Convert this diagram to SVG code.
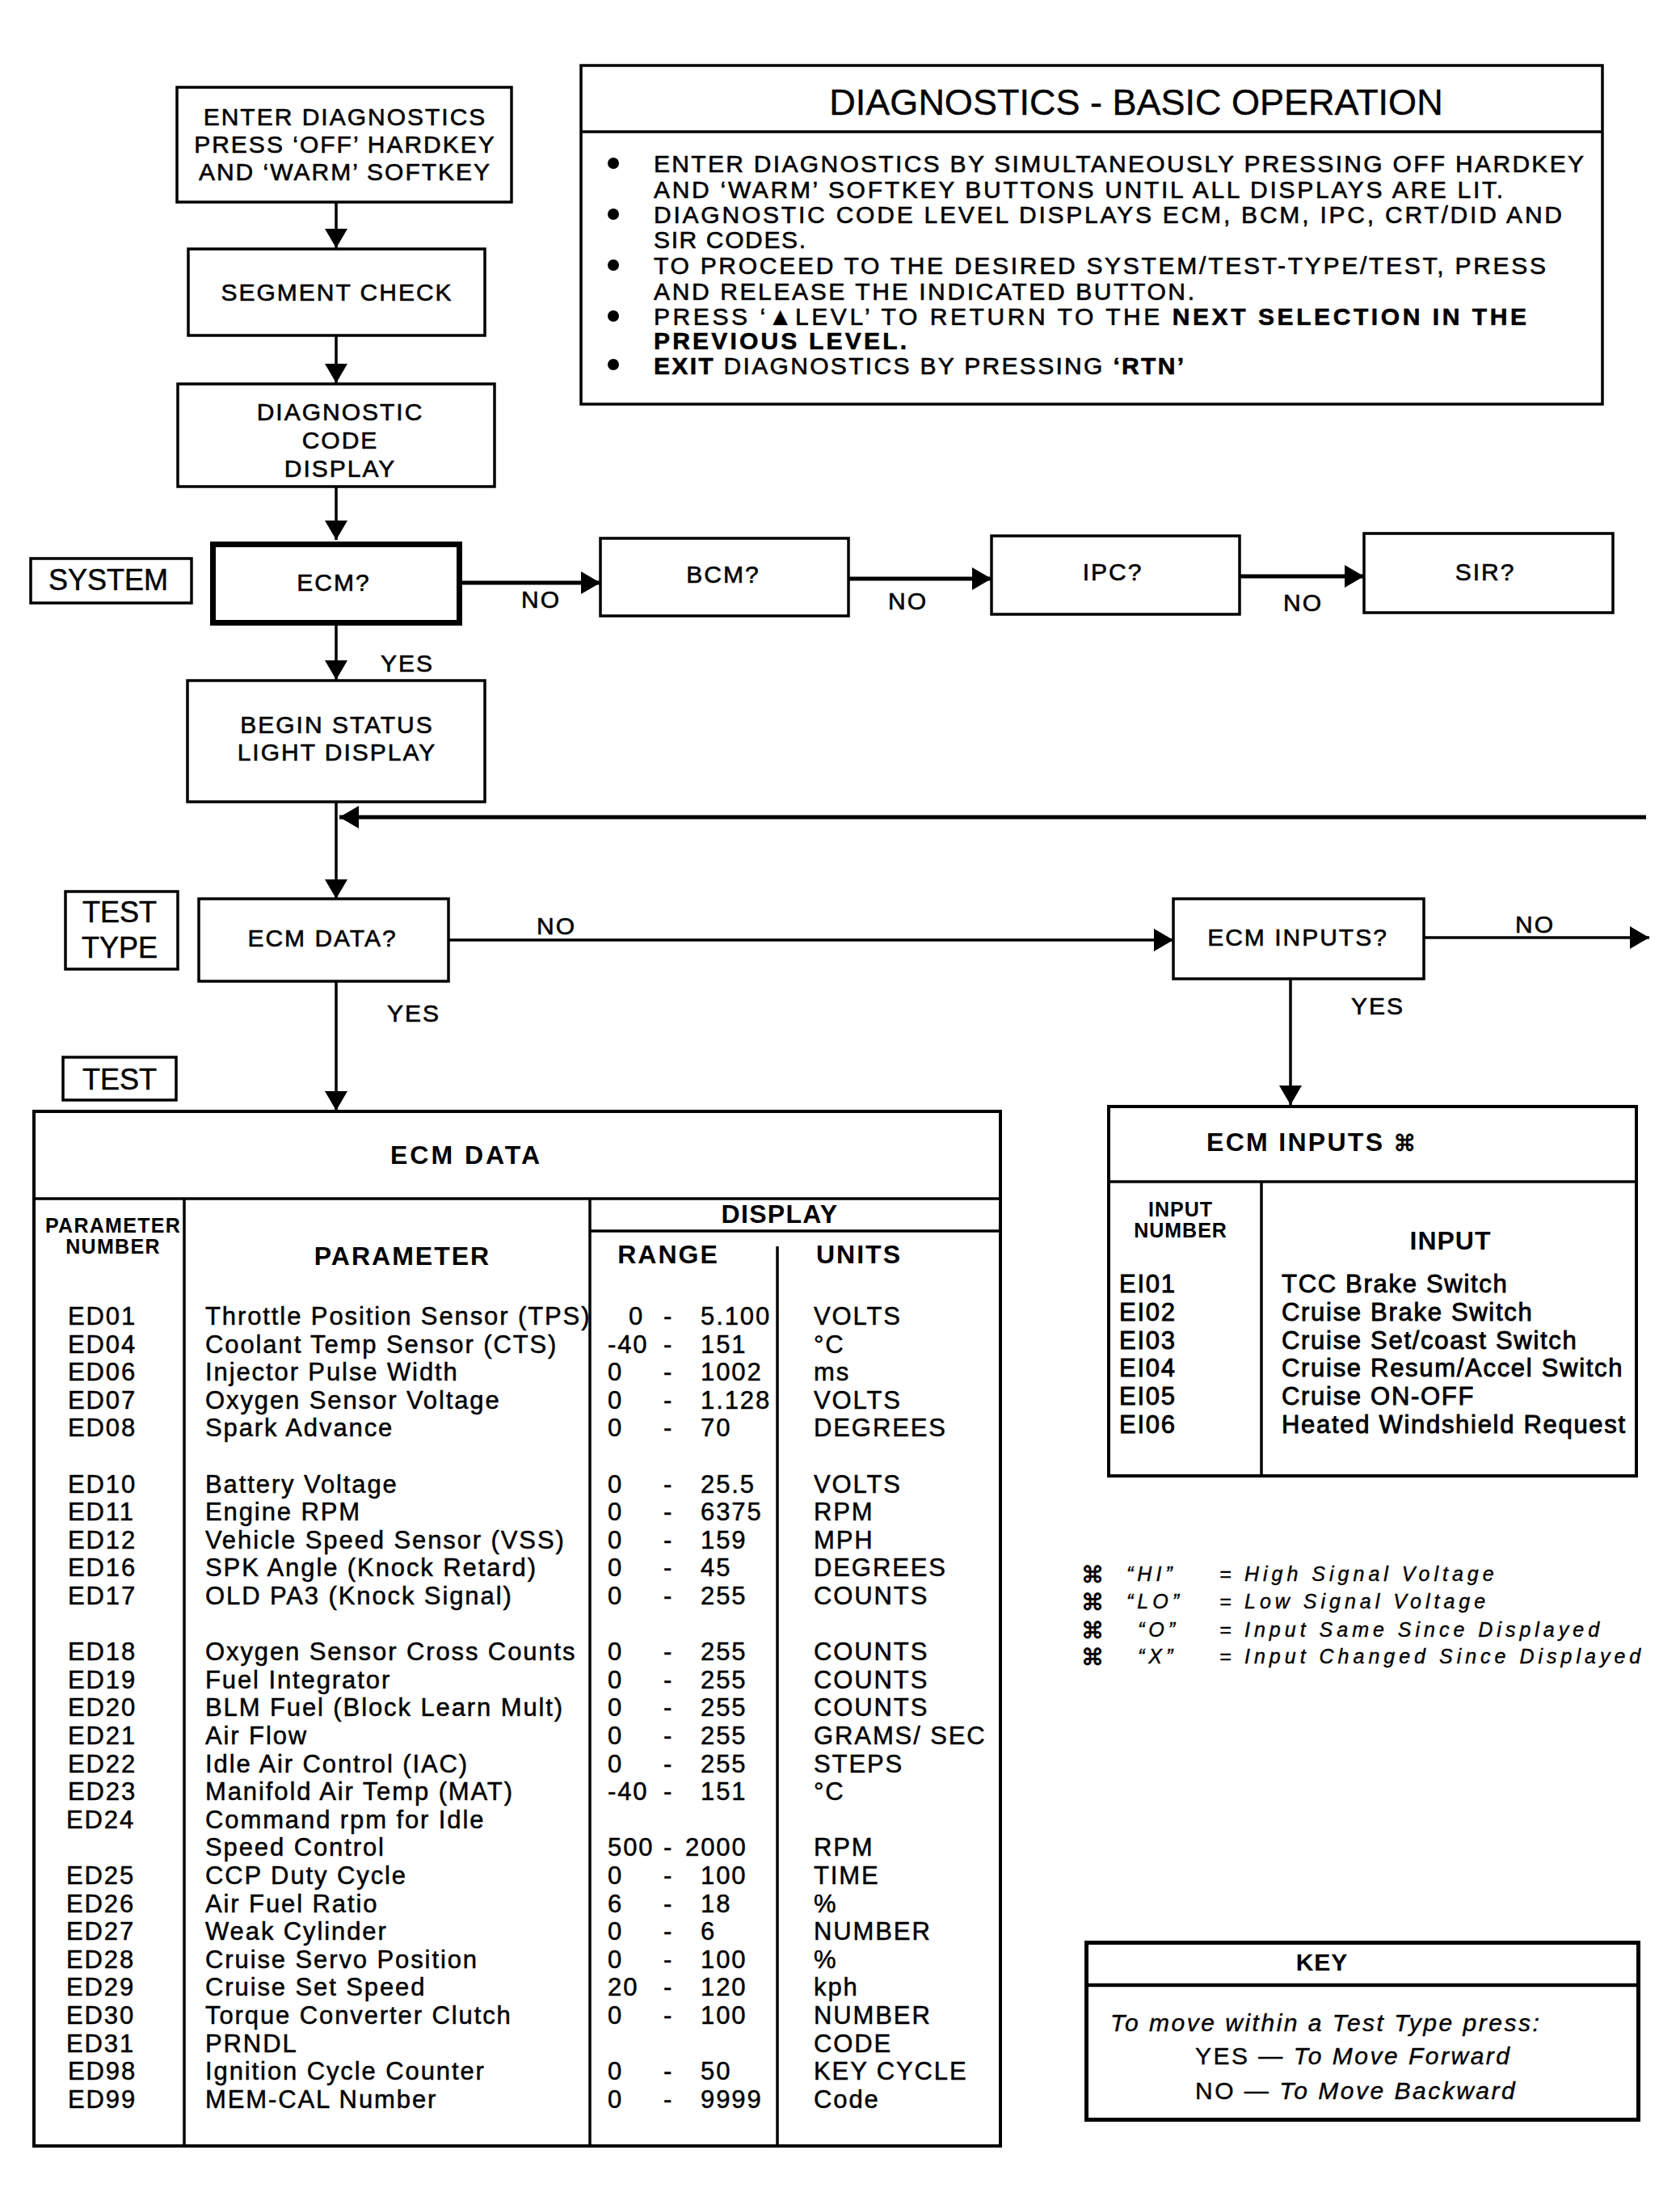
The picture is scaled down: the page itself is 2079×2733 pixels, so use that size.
<svg xmlns="http://www.w3.org/2000/svg" width="2079" height="2733" viewBox="0 0 2079 2733">
<style>
text { font-family: "Liberation Sans", Arial, Helvetica, sans-serif; fill:#000; }
.n { font-size:30px; letter-spacing:2px; stroke:#000; stroke-width:0.6px; }
.bl { font-size:30px; stroke:#000; stroke-width:0.6px; }
.c { text-anchor:middle; }
.b { font-weight:bold; }
.box { fill:#fff; stroke:#000; stroke-width:3.5; }
.ln { stroke:#000; stroke-width:3.5; fill:none; }
.thick { stroke-width:5; }
.tb { font-size:31px; letter-spacing:1.9px; stroke:#000; stroke-width:0.5px; }
.ti { font-size:31px; letter-spacing:1.7px; stroke:#000; stroke-width:0.9px; }
.it { font-style:italic; }
.lg { font-size:25px; font-style:italic; letter-spacing:5px; stroke:#000; stroke-width:0.4px; }
.ky { font-size:30px; letter-spacing:2.5px; stroke:#000; stroke-width:0.4px; }
</style>
<defs>
<marker id="ah" viewBox="0 0 24 28" refX="24" refY="14" markerWidth="24" markerHeight="28" markerUnits="userSpaceOnUse" orient="auto">
<path d="M0,0 L24,14 L0,28 z" fill="#000"/>
</marker>
</defs>
<rect width="2079" height="2733" fill="#fff"/>

<g id="connectors">
<line class="ln" x1="416" y1="250" x2="416" y2="307" marker-end="url(#ah)"/>
<line class="ln" x1="416" y1="415" x2="416" y2="474" marker-end="url(#ah)"/>
<line class="ln" x1="416" y1="602" x2="416" y2="668" marker-end="url(#ah)"/>
<line class="ln thick" x1="572" y1="721" x2="743" y2="721" marker-end="url(#ah)"/>
<line class="ln thick" x1="1050" y1="716" x2="1227" y2="716" marker-end="url(#ah)"/>
<line class="ln thick" x1="1534" y1="713" x2="1688" y2="713" marker-end="url(#ah)"/>
<line class="ln" x1="416" y1="774" x2="416" y2="841" marker-end="url(#ah)"/>
<line class="ln" x1="416" y1="992" x2="416" y2="1112" marker-end="url(#ah)"/>
<line class="ln thick" x1="2037" y1="1011" x2="420" y2="1011" marker-end="url(#ah)"/>
<line class="ln" x1="555" y1="1163" x2="1452" y2="1163" marker-end="url(#ah)"/>
<line class="ln" x1="1762" y1="1160" x2="2041" y2="1160" marker-end="url(#ah)"/>
<line class="ln" x1="416" y1="1214" x2="416" y2="1374" marker-end="url(#ah)"/>
<line class="ln" x1="1597" y1="1211" x2="1597" y2="1367" marker-end="url(#ah)"/>
<text class="n" x="645" y="752">NO</text>
<text class="n" x="1099" y="754">NO</text>
<text class="n" x="1588" y="756">NO</text>
<text class="n" x="471" y="831">YES</text>
<text class="n" x="664" y="1156">NO</text>
<text class="n" x="1875" y="1154">NO</text>
<text class="n" x="479" y="1264">YES</text>
<text class="n" x="1672" y="1255">YES</text>
</g>

<g id="enter-diagnostics">
<rect class="box" x="219" y="108" width="414" height="142"/>
<text class="n c" x="427" y="155">ENTER DIAGNOSTICS</text>
<text class="n c" x="427" y="189">PRESS ‘OFF’ HARDKEY</text>
<text class="n c" x="427" y="223">AND ‘WARM’ SOFTKEY</text>
</g>

<g id="segment-check">
<rect class="box" x="233" y="308" width="367" height="107"/>
<text class="n c" x="417" y="372">SEGMENT CHECK</text>
</g>

<g id="diagnostic-code-display">
<rect class="box" x="220" y="475" width="392" height="127"/>
<text class="n c" x="421" y="520">DIAGNOSTIC</text>
<text class="n c" x="421" y="555">CODE</text>
<text class="n c" x="421" y="590">DISPLAY</text>
</g>

<g id="basic-operation">
<rect class="box" x="719" y="81" width="1264" height="419"/>
<line class="ln" x1="719" y1="163" x2="1983" y2="163"/>
<text x="1406" y="142" font-size="45" text-anchor="middle" stroke="#000" stroke-width="0.4">DIAGNOSTICS - BASIC OPERATION</text>
<circle cx="759" cy="202" r="7"/>
<circle cx="759" cy="265" r="7"/>
<circle cx="759" cy="328" r="7"/>
<circle cx="759" cy="391" r="7"/>
<circle cx="759" cy="451" r="7"/>
<text class="bl" x="809" y="213" textLength="1151">ENTER DIAGNOSTICS BY SIMULTANEOUSLY PRESSING OFF HARDKEY</text>
<text class="bl" x="809" y="245" textLength="1051">AND ‘WARM’ SOFTKEY BUTTONS UNTIL ALL DISPLAYS ARE LIT.</text>
<text class="bl" x="809" y="276" textLength="1124">DIAGNOSTIC CODE LEVEL DISPLAYS ECM, BCM, IPC, CRT/DID AND</text>
<text class="bl" x="809" y="307" textLength="188">SIR CODES.</text>
<text class="bl" x="809" y="339" textLength="1104">TO PROCEED TO THE DESIRED SYSTEM/TEST-TYPE/TEST, PRESS</text>
<text class="bl" x="809" y="371" textLength="669">AND RELEASE THE INDICATED BUTTON.</text>
<text class="bl" x="809" y="402" textLength="1080">PRESS ‘▲LEVL’ TO RETURN TO THE <tspan class="b">NEXT SELECTION IN THE</tspan></text>
<text class="bl b" x="809" y="432" textLength="313">PREVIOUS LEVEL.</text>
<text class="bl" x="809" y="463" textLength="656"><tspan class="b">EXIT</tspan> DIAGNOSTICS BY PRESSING <tspan class="b">‘RTN’</tspan></text>
</g>

<g id="label-system">
<rect class="box" x="38" y="691" width="199" height="55"/>
<text x="134" y="730" font-size="36" text-anchor="middle" stroke="#000" stroke-width="0.5">SYSTEM</text>
</g>

<g id="ecm">
<rect x="263.5" y="673.5" width="305" height="97" fill="#fff" stroke="#000" stroke-width="7"/>
<text class="n c" x="413" y="731">ECM?</text>
</g>

<g id="bcm">
<rect class="box" x="743" y="666" width="307" height="96"/>
<text class="n c" x="895" y="721">BCM?</text>
</g>

<g id="ipc">
<rect class="box" x="1227" y="663" width="307" height="97"/>
<text class="n c" x="1377" y="718">IPC?</text>
</g>

<g id="sir">
<rect class="box" x="1688" y="660" width="308" height="98"/>
<text class="n c" x="1838" y="718">SIR?</text>
</g>

<g id="begin-status">
<rect class="box" x="232" y="842" width="368" height="150"/>
<text class="n c" x="417" y="907">BEGIN STATUS</text>
<text class="n c" x="417" y="941">LIGHT DISPLAY</text>
</g>

<g id="label-test-type">
<rect class="box" x="81" y="1103" width="139" height="96"/>
<text x="148" y="1141" font-size="36" text-anchor="middle" stroke="#000" stroke-width="0.5">TEST</text>
<text x="148" y="1185" font-size="36" text-anchor="middle" stroke="#000" stroke-width="0.5">TYPE</text>
</g>

<g id="ecm-data-q">
<rect class="box" x="246" y="1112" width="309" height="102"/>
<text class="n c" x="399" y="1171">ECM DATA?</text>
</g>

<g id="ecm-inputs-q">
<rect class="box" x="1452" y="1112" width="310" height="99"/>
<text class="n c" x="1606" y="1170">ECM INPUTS?</text>
</g>

<g id="label-test">
<rect class="box" x="78" y="1308" width="140" height="53"/>
<text x="148" y="1348" font-size="36" text-anchor="middle" stroke="#000" stroke-width="0.5">TEST</text>
</g>

<g id="ecm-data-table">
<rect x="42" y="1375" width="1196" height="1280" fill="#fff" stroke="#000" stroke-width="4"/>
<line class="ln" x1="42" y1="1483" x2="1238" y2="1483"/>
<line class="ln" x1="228" y1="1483" x2="228" y2="2655"/>
<line class="ln" x1="730" y1="1483" x2="730" y2="2655"/>
<line class="ln" x1="730" y1="1523" x2="1238" y2="1523"/>
<line class="ln" x1="962" y1="1542" x2="962" y2="2655"/>
<text class="b c" x="577" y="1440" font-size="32" letter-spacing="3">ECM DATA</text>
<text class="b c" x="140" y="1525" font-size="25" letter-spacing="1.3">PARAMETER</text>
<text class="b c" x="140" y="1551" font-size="25" letter-spacing="1.3">NUMBER</text>
<text class="b c" x="498" y="1565" font-size="32" letter-spacing="2">PARAMETER</text>
<text class="b c" x="965" y="1513" font-size="32" letter-spacing="1.3">DISPLAY</text>
<text class="b c" x="827" y="1563" font-size="32" letter-spacing="2">RANGE</text>
<text class="b c" x="1063" y="1563" font-size="32" letter-spacing="2">UNITS</text>

<g class="tb">
<text x="84" y="1639">ED01</text><text x="254" y="1639">Throttle Position Sensor (TPS)</text><text x="778" y="1639">0</text><text x="821" y="1639">-</text><text x="867" y="1639">5.100</text><text x="1007" y="1639">VOLTS</text>
<text x="84" y="1674">ED04</text><text x="254" y="1674">Coolant Temp Sensor (CTS)</text><text x="752" y="1674">-40</text><text x="821" y="1674">-</text><text x="867" y="1674">151</text><text x="1007" y="1674">°C</text>
<text x="84" y="1708">ED06</text><text x="254" y="1708">Injector Pulse Width</text><text x="752" y="1708">0</text><text x="821" y="1708">-</text><text x="867" y="1708">1002</text><text x="1007" y="1708">ms</text>
<text x="84" y="1743">ED07</text><text x="254" y="1743">Oxygen Sensor Voltage</text><text x="752" y="1743">0</text><text x="821" y="1743">-</text><text x="867" y="1743">1.128</text><text x="1007" y="1743">VOLTS</text>
<text x="84" y="1777">ED08</text><text x="254" y="1777">Spark Advance</text><text x="752" y="1777">0</text><text x="821" y="1777">-</text><text x="867" y="1777">70</text><text x="1007" y="1777">DEGREES</text>

<text x="84" y="1847">ED10</text><text x="254" y="1847">Battery Voltage</text><text x="752" y="1847">0</text><text x="821" y="1847">-</text><text x="867" y="1847">25.5</text><text x="1007" y="1847">VOLTS</text>
<text x="84" y="1881">ED11</text><text x="254" y="1881">Engine RPM</text><text x="752" y="1881">0</text><text x="821" y="1881">-</text><text x="867" y="1881">6375</text><text x="1007" y="1881">RPM</text>
<text x="84" y="1916">ED12</text><text x="254" y="1916">Vehicle Speed Sensor (VSS)</text><text x="752" y="1916">0</text><text x="821" y="1916">-</text><text x="867" y="1916">159</text><text x="1007" y="1916">MPH</text>
<text x="84" y="1950">ED16</text><text x="254" y="1950">SPK Angle (Knock Retard)</text><text x="752" y="1950">0</text><text x="821" y="1950">-</text><text x="867" y="1950">45</text><text x="1007" y="1950">DEGREES</text>
<text x="84" y="1985">ED17</text><text x="254" y="1985">OLD PA3 (Knock Signal)</text><text x="752" y="1985">0</text><text x="821" y="1985">-</text><text x="867" y="1985">255</text><text x="1007" y="1985">COUNTS</text>

<text x="84" y="2054">ED18</text><text x="254" y="2054">Oxygen Sensor Cross Counts</text><text x="752" y="2054">0</text><text x="821" y="2054">-</text><text x="867" y="2054">255</text><text x="1007" y="2054">COUNTS</text>
<text x="84" y="2089">ED19</text><text x="254" y="2089">Fuel Integrator</text><text x="752" y="2089">0</text><text x="821" y="2089">-</text><text x="867" y="2089">255</text><text x="1007" y="2089">COUNTS</text>
<text x="84" y="2123">ED20</text><text x="254" y="2123">BLM Fuel (Block Learn Mult)</text><text x="752" y="2123">0</text><text x="821" y="2123">-</text><text x="867" y="2123">255</text><text x="1007" y="2123">COUNTS</text>
<text x="84" y="2158">ED21</text><text x="254" y="2158">Air Flow</text><text x="752" y="2158">0</text><text x="821" y="2158">-</text><text x="867" y="2158">255</text><text x="1007" y="2158">GRAMS/ SEC</text>
<text x="84" y="2193">ED22</text><text x="254" y="2193">Idle Air Control (IAC)</text><text x="752" y="2193">0</text><text x="821" y="2193">-</text><text x="867" y="2193">255</text><text x="1007" y="2193">STEPS</text>
<text x="84" y="2227">ED23</text><text x="254" y="2227">Manifold Air Temp (MAT)</text><text x="752" y="2227">-40</text><text x="821" y="2227">-</text><text x="867" y="2227">151</text><text x="1007" y="2227">°C</text>
<text x="82" y="2262">ED24</text><text x="254" y="2262">Command rpm for Idle</text>
<text x="254" y="2296">Speed Control</text><text x="752" y="2296">500</text><text x="821" y="2296">-</text><text x="848" y="2296">2000</text><text x="1007" y="2296">RPM</text>
<text x="82" y="2331">ED25</text><text x="254" y="2331">CCP Duty Cycle</text><text x="752" y="2331">0</text><text x="821" y="2331">-</text><text x="867" y="2331">100</text><text x="1007" y="2331">TIME</text>
<text x="82" y="2366">ED26</text><text x="254" y="2366">Air Fuel Ratio</text><text x="752" y="2366">6</text><text x="821" y="2366">-</text><text x="867" y="2366">18</text><text x="1007" y="2366">%</text>
<text x="82" y="2400">ED27</text><text x="254" y="2400">Weak Cylinder</text><text x="752" y="2400">0</text><text x="821" y="2400">-</text><text x="867" y="2400">6</text><text x="1007" y="2400">NUMBER</text>
<text x="82" y="2435">ED28</text><text x="254" y="2435">Cruise Servo Position</text><text x="752" y="2435">0</text><text x="821" y="2435">-</text><text x="867" y="2435">100</text><text x="1007" y="2435">%</text>
<text x="82" y="2469">ED29</text><text x="254" y="2469">Cruise Set Speed</text><text x="752" y="2469">20</text><text x="821" y="2469">-</text><text x="867" y="2469">120</text><text x="1007" y="2469">kph</text>
<text x="82" y="2504">ED30</text><text x="254" y="2504">Torque Converter Clutch</text><text x="752" y="2504">0</text><text x="821" y="2504">-</text><text x="867" y="2504">100</text><text x="1007" y="2504">NUMBER</text>
<text x="82" y="2539">ED31</text><text x="254" y="2539">PRNDL</text><text x="1007" y="2539">CODE</text>
<text x="84" y="2573">ED98</text><text x="254" y="2573">Ignition Cycle Counter</text><text x="752" y="2573">0</text><text x="821" y="2573">-</text><text x="867" y="2573">50</text><text x="1007" y="2573">KEY CYCLE</text>
<text x="84" y="2608">ED99</text><text x="254" y="2608">MEM-CAL Number</text><text x="752" y="2608">0</text><text x="821" y="2608">-</text><text x="867" y="2608">9999</text><text x="1007" y="2608">Code</text>
</g>
</g>

<g id="ecm-inputs-table">
<rect x="1372" y="1369" width="653" height="457" fill="#fff" stroke="#000" stroke-width="4"/>
<line class="ln" x1="1372" y1="1462" x2="2025" y2="1462"/>
<line class="ln" x1="1561" y1="1462" x2="1561" y2="1826"/>
<text class="b" x="1493" y="1424" font-size="32" letter-spacing="2.3">ECM INPUTS <tspan font-family="DejaVu Sans, sans-serif" font-weight="normal" font-size="28" letter-spacing="0" stroke="#000" stroke-width="0.8">⌘</tspan></text>
<text class="b c" x="1461" y="1505" font-size="25" letter-spacing="1">INPUT</text>
<text class="b c" x="1461" y="1531" font-size="25" letter-spacing="1">NUMBER</text>
<text class="b c" x="1795" y="1546" font-size="32" letter-spacing="1">INPUT</text>
<g class="ti">
<text x="1385" y="1599">EI01</text><text x="1586" y="1599">TCC Brake Switch</text>
<text x="1385" y="1634">EI02</text><text x="1586" y="1634">Cruise  Brake Switch</text>
<text x="1385" y="1669">EI03</text><text x="1586" y="1669">Cruise Set/coast Switch</text>
<text x="1385" y="1703">EI04</text><text x="1586" y="1703">Cruise Resum/Accel Switch</text>
<text x="1385" y="1738">EI05</text><text x="1586" y="1738">Cruise  ON-OFF</text>
<text x="1385" y="1773">EI06</text><text x="1586" y="1773">Heated Windshield Request</text>
</g>
</g>

<g id="legend">
<g font-family="DejaVu Sans, sans-serif" font-size="28" stroke="#000" stroke-width="0.8">
<text x="1338" y="1958">⌘</text>
<text x="1338" y="1992">⌘</text>
<text x="1338" y="2027">⌘</text>
<text x="1338" y="2060">⌘</text>
</g>
<g class="lg">
<text x="1394" y="1956">“HI”</text><text x="1509" y="1956">=</text><text x="1540" y="1956">High Signal Voltage</text>
<text x="1394" y="1990">“LO”</text><text x="1509" y="1990">=</text><text x="1540" y="1990">Low Signal Voltage</text>
<text x="1408" y="2025">“O”</text><text x="1509" y="2025">=</text><text x="1540" y="2025">Input Same Since Displayed</text>
<text x="1408" y="2058">“X”</text><text x="1509" y="2058">=</text><text x="1540" y="2058">Input Changed Since Displayed</text>
</g>
</g>

<g id="key">
<rect x="1344.5" y="2403.5" width="683" height="219" fill="#fff" stroke="#000" stroke-width="5"/>
<line x1="1342" y1="2456" x2="2030" y2="2456" stroke="#000" stroke-width="4.5"/>
<text class="b c" x="1636" y="2438" font-size="30" letter-spacing="1">KEY</text>
<text class="ky it" x="1374" y="2513">To move within a Test Type press:</text>
<text class="ky" x="1479" y="2554">YES — <tspan class="it">To Move Forward</tspan></text>
<text class="ky" x="1479" y="2597">NO — <tspan class="it">To Move Backward</tspan></text>
</g>
</svg>
